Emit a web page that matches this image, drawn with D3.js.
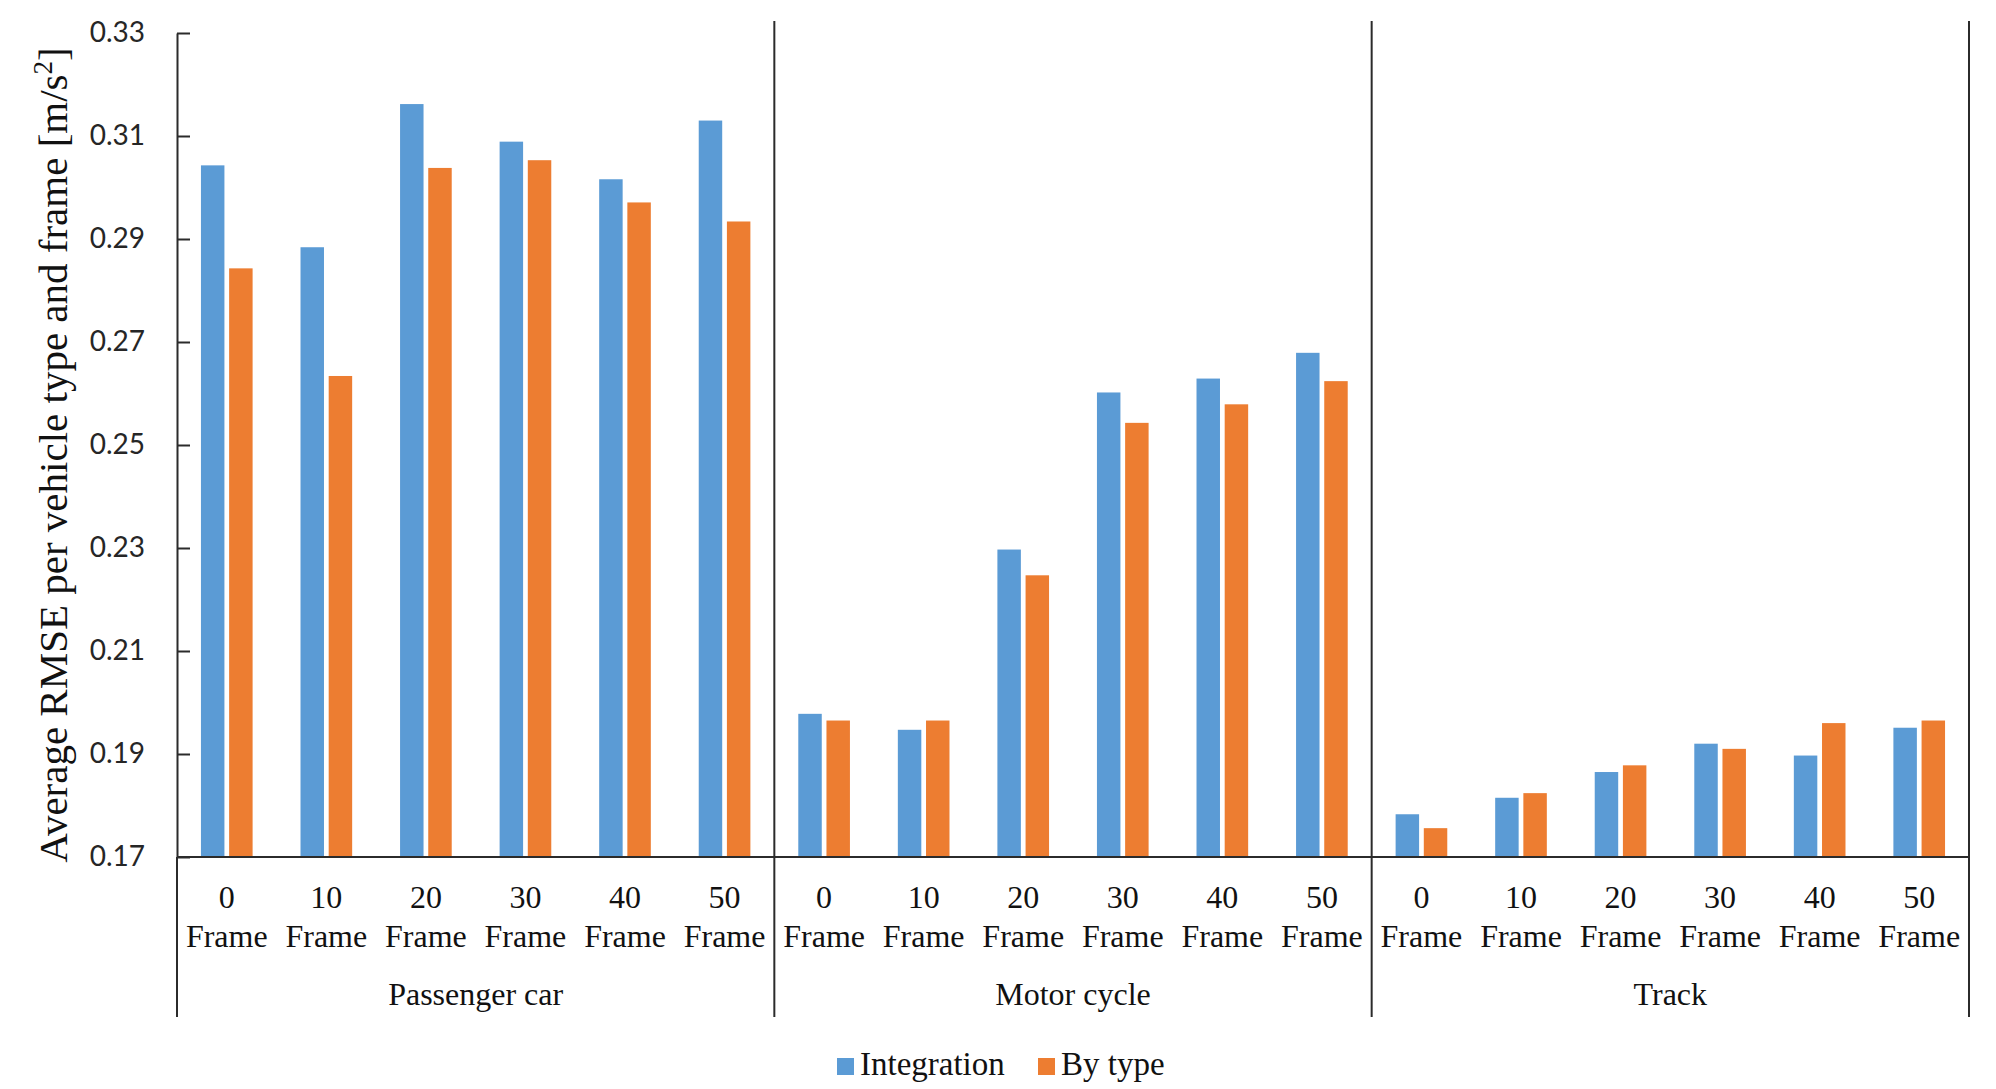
<!DOCTYPE html>
<html>
<head>
<meta charset="utf-8">
<script src="https://cdn.jsdelivr.net/npm/d3@7"></script>
<style>
  body { margin: 0; background: #fff; }
  svg { display: block; }
</style>
</head>
<body>
<div id="chart"></div>
<script>
// 数据
const groups = ["Passenger car", "Motor cycle", "Track"];
const frames = ["0", "10", "20", "30", "40", "50"];
const seriesNames = ["Integration", "By type"];
// 每组 6 个帧数, 顺序: Passenger car, Motor cycle, Track
const integration = [
    0.3043, 0.2884, 0.3162, 0.3089, 0.3016, 0.3130,
    0.1978, 0.1947, 0.2297, 0.2602, 0.2629, 0.2679,
    0.1783, 0.1815, 0.1865, 0.1920, 0.1897, 0.1951
];
const byType = [
    0.2843, 0.2634, 0.3038, 0.3053, 0.2971, 0.2934,
    0.1965, 0.1965, 0.2247, 0.2543, 0.2579, 0.2624,
    0.1756, 0.1824, 0.1878, 0.1910, 0.1960, 0.1965
];
const yTicks = [0.17, 0.19, 0.21, 0.23, 0.25, 0.27, 0.29, 0.31, 0.33];

const colors = ["#5B9BD5", "#ED7D31"];
const axisColor = "#2b2b2b";
const serif = "'Liberation Serif', 'Times New Roman', serif";
const sans = "Lato, 'Open Sans', sans-serif";

const width = 1996, height = 1089;
const plotLeft = 177, plotRight = 1969, plotTop = 33, plotBottom = 857;

const svg = d3.select("#chart")
    .append("svg")
    .attr("width", width)
    .attr("height", height);

// 比例尺
const keys = [];
groups.forEach((g, gi) => frames.forEach((f, fi) => keys.push(gi + "-" + fi)));

const x = d3.scaleBand()
    .domain(keys)
    .range([plotLeft, plotRight])
    .padding(0);

const xInner = d3.scaleBand()
    .domain(seriesNames)
    .range([0, x.bandwidth()])
    .paddingInner(0.167)
    .paddingOuter(0.85);

const y = d3.scaleLinear()
    .domain([0.17, 0.33])
    .range([plotBottom, plotTop]);

// 柱子
const rows = keys.map((k, i) => ({ key: k, values: [integration[i], byType[i]] }));

const cat = svg.append("g")
    .selectAll("g")
    .data(rows)
    .join("g")
    .attr("transform", d => `translate(${x(d.key)},0)`);

cat.selectAll("rect")
    .data(d => d.values.map((v, si) => ({ v, si })))
    .join("rect")
    .attr("x", d => xInner(seriesNames[d.si]))
    .attr("width", xInner.bandwidth())
    .attr("y", d => y(d.v))
    .attr("height", d => y(0.17) - y(d.v))
    .attr("fill", d => colors[d.si]);

// Y 轴
const yAxis = svg.append("g")
    .attr("transform", `translate(${plotLeft},0)`)
    .call(d3.axisLeft(y)
        .tickValues(yTicks)
        .tickFormat(d3.format(".2f"))
        .tickSizeInner(-13)
        .tickSizeOuter(0)
        .tickPadding(32));

yAxis.select(".domain").attr("stroke", axisColor).attr("stroke-width", 2);
yAxis.selectAll(".tick line").attr("stroke", axisColor).attr("stroke-width", 2);
yAxis.selectAll(".tick text")
    .attr("fill", "#262626")
    .style("font-family", sans)
    .style("font-size", "28px");

// X 轴线 + 分组线
svg.append("line")
    .attr("x1", plotLeft).attr("x2", plotRight)
    .attr("y1", plotBottom).attr("y2", plotBottom)
    .attr("stroke", axisColor).attr("stroke-width", 2);

svg.append("line")
    .attr("x1", plotLeft).attr("x2", plotLeft)
    .attr("y1", plotBottom).attr("y2", 1017)
    .attr("stroke", axisColor).attr("stroke-width", 2);

const groupEdges = groups.map((g, gi) => x(gi + "-0"));
groupEdges.push(plotRight);

svg.append("g")
    .selectAll("line")
    .data(groupEdges.slice(1))
    .join("line")
    .attr("x1", d => d).attr("x2", d => d)
    .attr("y1", 21).attr("y2", 1017)
    .attr("stroke", axisColor).attr("stroke-width", 2);

// 类别标签
const labels = svg.append("g")
    .style("font-family", serif)
    .style("font-size", "32px")
    .attr("fill", "#111")
    .attr("text-anchor", "middle");

keys.forEach((k, i) => {
    const cx = x(k) + x.bandwidth() / 2;
    labels.append("text").attr("x", cx).attr("y", 908).text(frames[i % frames.length]);
    labels.append("text").attr("x", cx).attr("y", 947).text("Frame");
});

groups.forEach((g, gi) => {
    const cx = (groupEdges[gi] + groupEdges[gi + 1]) / 2;
    labels.append("text").attr("x", cx).attr("y", 1005).text(g);
});

// Y 轴标题
const title = svg.append("text")
    .attr("transform", "translate(67,455) rotate(-90)")
    .attr("text-anchor", "middle")
    .attr("fill", "#111")
    .style("font-family", serif)
    .style("font-size", "41px");
title.append("tspan").text("Average RMSE per vehicle type and frame [m/s");
title.append("tspan").attr("dy", -15).style("font-size", "27px").text("2");
title.append("tspan").attr("dy", 15).text("]");

// 图例
const legend = svg.append("g")
    .attr("transform", "translate(837,0)");

const legendX = [0, 201];
seriesNames.forEach((name, i) => {
    const item = legend.append("g").attr("transform", `translate(${legendX[i]},0)`);
    item.append("rect")
        .attr("x", 0).attr("y", 1058)
        .attr("width", 17).attr("height", 17)
        .attr("fill", colors[i]);
    item.append("text")
        .attr("x", 23).attr("y", 1075)
        .attr("fill", "#111")
        .style("font-family", serif)
        .style("font-size", "33px")
        .text(name);
});
</script>
</body>
</html>
